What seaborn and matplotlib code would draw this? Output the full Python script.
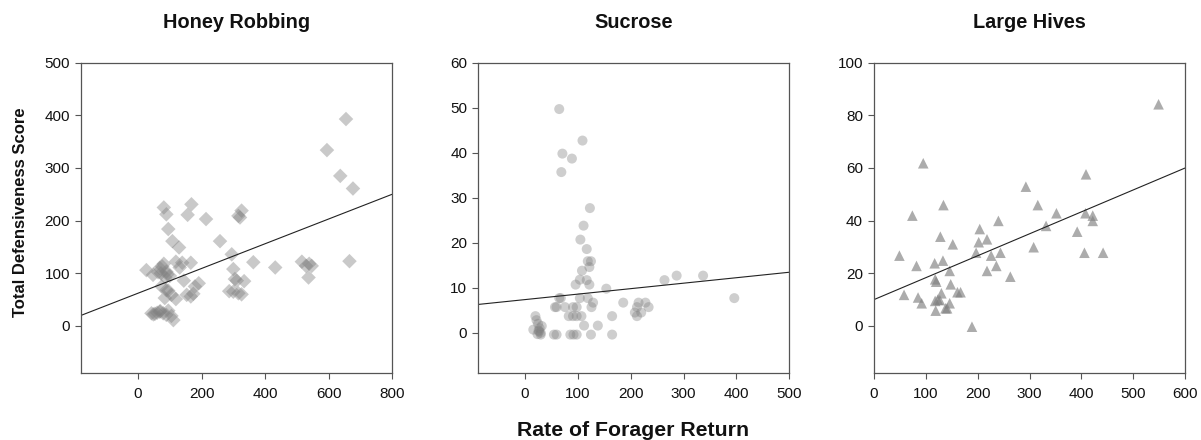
import matplotlib
matplotlib.use("Agg")
import matplotlib.pyplot as plt
import seaborn as sns
import numpy as np
import pandas as pd

sns.set_style("white")
plt.rcParams['font.family'] = ['Liberation Sans', 'DejaVu Sans']

titles = ["Honey Robbing", "Sucrose", "Large Hives"]

# Panel 1: Honey Robbing
robbing_x = [655, 595, 637, 677, 666, 81, 89, 95, 108, 129, 156, 168, 214, 258, 316, 326, 321,
             295, 300, 305, 311, 334, 287, 300, 316, 326, 363, 432, 516, 529, 547, 539, 537,
             166, 131, 139, 119, 144, 153, 166, 174, 179, 191, 119, 105, 89, 95, 84,
             26, 47, 63, 76, 81, 72, 89, 86, 100, 74, 68, 92,
             42, 53, 60, 68, 79, 89, 95, 105, 111, 48, 70]
robbing_y = [393, 334, 285, 261, 123, 225, 212, 184, 161, 149, 211, 231, 203, 161, 209, 219, 206,
             136, 108, 89, 86, 85, 66, 65, 62, 60, 121, 111, 122, 114, 114, 118, 92,
             120, 111, 120, 122, 86, 59, 56, 61, 75, 81, 51, 59, 68, 67, 53,
             106, 97, 102, 113, 118, 100, 103, 92, 95, 75, 110, 98,
             24, 23, 25, 27, 24, 21, 29, 19, 11, 22, 28]

# Panel 2: Sucrose
sucrose_x = [65, 109, 71, 89, 69, 123, 111, 105, 117, 119, 125, 122, 108, 104, 96, 117, 122,
             154, 264, 287, 337, 396, 65, 68, 57, 60, 76, 83, 91, 98, 91, 98, 107, 104, 112,
             126, 129, 119, 138, 165, 186, 208, 212, 215, 220, 228, 234, 212,
             86, 92, 98, 55, 60, 125, 165,
             16, 20, 25, 28, 30, 24, 27, 32, 22, 30, 26]
sucrose_y = [49.7, 42.7, 39.8, 38.7, 35.7, 27.7, 23.8, 20.7, 18.6, 15.9, 15.9, 14.6, 13.8, 11.8,
             10.7, 11.7, 10.7, 9.8, 11.7, 12.7, 12.7, 7.7, 7.7, 7.7, 5.7, 5.7, 5.7, 3.7, 3.7,
             3.7, 5.7, 5.7, 3.7, 7.7, 1.6, 5.7, 6.7, 7.7, 1.6, 3.7, 6.7, 4.5, 5.7, 6.7,
             4.5, 6.7, 5.7, 3.7,
             -0.4, -0.4, -0.4, -0.4, -0.4, -0.4, -0.4,
             0.7, 3.7, 2.0, 1.0, -0.4, -0.3, 0.3, 1.5, 2.8, 0.0, 0.5]

# Panel 3: Large Hives
hives_x = [549, 95, 409, 293, 134, 316, 74, 352, 408, 422, 422, 240, 332, 204, 392, 128, 218,
           202, 152, 308, 197, 244, 406, 442, 49, 226, 133, 117, 82, 236, 146, 218, 263,
           118, 120, 148, 58, 130, 161, 167, 85, 92, 118, 123, 127, 146, 138, 141, 119, 189]
hives_y = [84.2, 61.8, 57.6, 52.9, 45.9, 45.9, 41.9, 42.8, 42.8, 41.9, 39.9, 39.9, 38.0, 36.8,
           35.8, 33.9, 32.9, 31.8, 31.0, 29.9, 27.8, 27.8, 27.8, 27.8, 26.7, 26.7, 24.8, 23.8,
           22.8, 22.8, 20.9, 20.9, 18.7, 17.7, 16.8, 15.8, 11.8, 12.4, 12.8, 12.8, 10.8, 8.6,
           9.5, 10.0, 9.8, 8.6, 6.7, 6.7, 5.8, -0.3]

# fitted regression lines (intercept, slope)
fit_intercepts = [62.2, 7.37, 10.0]
fit_slopes = [0.2347, 0.01216, 0.0833]

xlims = [(-180, 800), (-88, 500), (0, 600)]
ylims = [(-90, 500), (-9, 60), (-18, 100)]
xticks = [[0, 200, 400, 600, 800], [0, 100, 200, 300, 400, 500], [0, 100, 200, 300, 400, 500, 600]]
yticks = [[0, 100, 200, 300, 400, 500], [0, 10, 20, 30, 40, 50, 60], [0, 20, 40, 60, 80, 100]]

markers = ["D", "o", "^"]
sizes = [55, 52, 58]
alphas = [0.42, 0.38, 0.65]

data = [(robbing_x, robbing_y), (sucrose_x, sucrose_y), (hives_x, hives_y)]

fig = plt.figure(figsize=(12.01, 4.40), dpi=100)
lefts = [81 / 1201, 478.3 / 1201, 874 / 1201]
W = 311 / 1201
B = 1 - 373.3 / 440
H = 310.6 / 440

for i in range(3):
    ax = fig.add_axes([lefts[i], B, W, H])
    df = pd.DataFrame({"x": data[i][0], "y": data[i][1]})
    sns.scatterplot(data=df, x="x", y="y", ax=ax, marker=markers[i], s=sizes[i],
                    color="#808080", alpha=alphas[i], edgecolor="none", linewidth=0)
    ax.axline((0, fit_intercepts[i]), slope=fit_slopes[i], color="#222222", lw=0.8)
    ax.set_xlim(*xlims[i])
    ax.set_ylim(*ylims[i])
    ax.set_xticks(xticks[i])
    ax.set_yticks(yticks[i])
    ax.set_xlabel("")
    ax.set_ylabel("")
    for sp in ax.spines.values():
        sp.set_color("#555555")
        sp.set_linewidth(0.9)
    ax.tick_params(axis="both", which="major", direction="out", length=4, width=0.8,
                   color="#555555", labelsize=11, labelcolor="#111111",
                   bottom=True, left=True)
    ax.tick_params(axis="x", pad=6)
    ax.tick_params(axis="y", pad=4)
    cx = lefts[i] + W / 2
    fig.text(cx, 1 - 27.7 / 440, titles[i], ha="center", va="baseline",
             fontsize=14.3, fontweight="bold", color="#111111")

fig.text(21 / 1201, 1 - 212.5 / 440, "Total Defensiveness Score", rotation=90,
         ha="center", va="center", fontsize=12, fontweight="bold", color="#111111")
fig.text(633 / 1201, 1 - 436 / 440, "Rate of Forager Return", ha="center", va="baseline",
         fontsize=15.3, fontweight="bold", color="#111111")

fig.savefig("out.png", dpi=100)
